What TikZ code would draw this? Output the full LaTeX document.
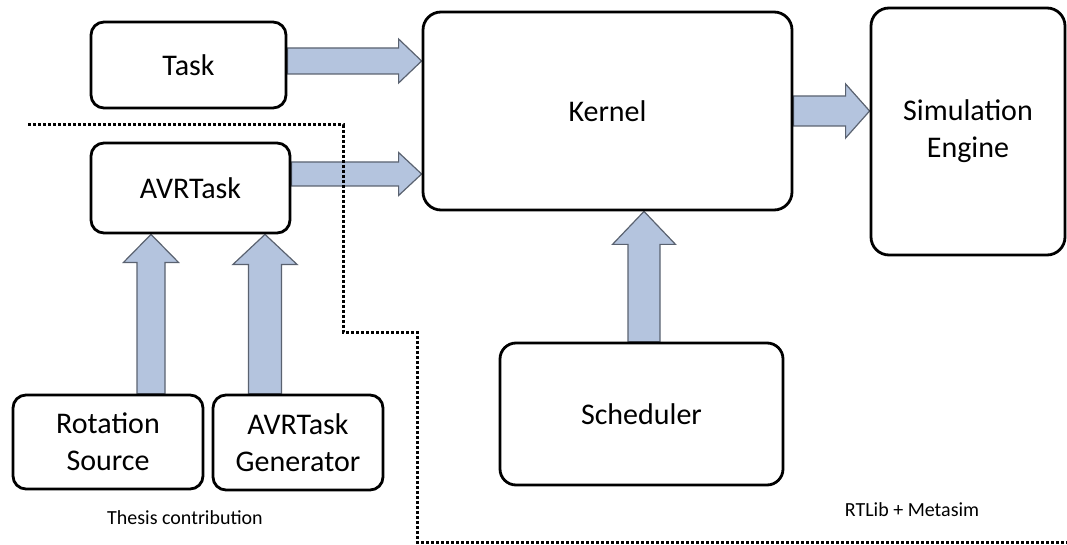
\documentclass[tikz,border=0pt]{standalone}
\usepackage{fontspec}
\setmainfont{Carlito}
\usetikzlibrary{calc,backgrounds}
\definecolor{arrowfill}{RGB}{180,196,222}
\definecolor{arrowedge}{RGB}{90,98,112}
\def\fatarrow(#1)(#2)(#3:#4:#5){\draw[fatarrow] let \p1=(#1), \p2=(#2), \n1={atan2(\y2-(\y1),\x2-(\x1))}, \n2={veclen(\x2-(\x1),\y2-(\y1))} in [shift={(\p1)}, rotate=\n1] (0,#3/2) -- ({\n2-#5},#3/2) -- ({\n2-#5},#4/2) -- (\n2,0) -- ({\n2-#5},-#4/2) -- ({\n2-#5},-#3/2) -- (0,-#3/2) -- cycle;}

\begin{document}
\begin{tikzpicture}[x=1pt,y=-1pt,
	block/.style={draw, line width=2.8pt, rounded corners=13pt, align=center, inner sep=0pt, font=\fontsize{30}{37}\selectfont},
	fatarrow/.style={fill=arrowfill, draw=arrowedge, line width=1.2pt, line join=miter},
	note/.style={font=\fontsize{20}{24}\selectfont}]
			%%%%% START %%%%%
			\useasboundingbox (0,0) rectangle (1067,545);
			
			\node[block, minimum width=195, minimum height=86] (task) at (188.5,65) {Task};
			\node[block, minimum width=199, minimum height=90] (avrtask) at (190.5,188) {AVRTask};
			\node[block, minimum width=369, minimum height=198, rounded corners=18pt] (kernel) at (607.5,111) {Kernel};
			\node[block, minimum width=194, minimum height=247, rounded corners=18pt] (engine) at (968,131.5) {Simulation\\Engine};
			\node[block, minimum width=283, minimum height=142, rounded corners=16pt] (scheduler) at (641.5,414) {Scheduler};
			\node[block, minimum width=190, minimum height=94] (rotsrc) at (108,442) {Rotation\\Source};
			\node[block, minimum width=170, minimum height=95] (avrgen) at (298,442.5) {AVRTask\\Generator};
			
			\node[note] (thesis) at (185,518) {Thesis contribution};
			\node[note] (rtlib) at (912,510) {RTLib + Metasim};
			
			\coordinate (tasktail) at ($(task.east)+(0,-4)$);
			\coordinate (avrtail) at ($(avrtask.east)+(0,-14)$);
			\coordinate (schedtail) at ($(scheduler.north)+(2.5,0)$);
			\coordinate (rottail) at ($(rotsrc.north)+(43,0)$);
			\coordinate (gentail) at ($(avrgen.north)+(-33,0)$);
			
			\begin{pgfonlayer}{background}
			\fatarrow(tasktail)(kernel.west|-tasktail)(26:44:23)
			\fatarrow(avrtail)(kernel.west|-avrtail)(24:43:23)
			\fatarrow(kernel.east)(engine.west|-kernel.east)(30:54:24)
			\fatarrow(schedtail)(kernel.south-|schedtail)(32:63:33)
			\fatarrow(rottail)(avrtask.south-|rottail)(28:55:28)
			\fatarrow(gentail)(avrtask.south-|gentail)(33:64:30)
			\end{pgfonlayer}
			
			% border between the two parts
			\draw[line width=3pt, dash pattern=on 2.6pt off 2.4pt] (28,125) -- (343,125) -- (343,332) -- (417,332) -- (417,542) -- (1067,542);
			
			%%%%% END %%%%%
\end{tikzpicture}
\end{document}
